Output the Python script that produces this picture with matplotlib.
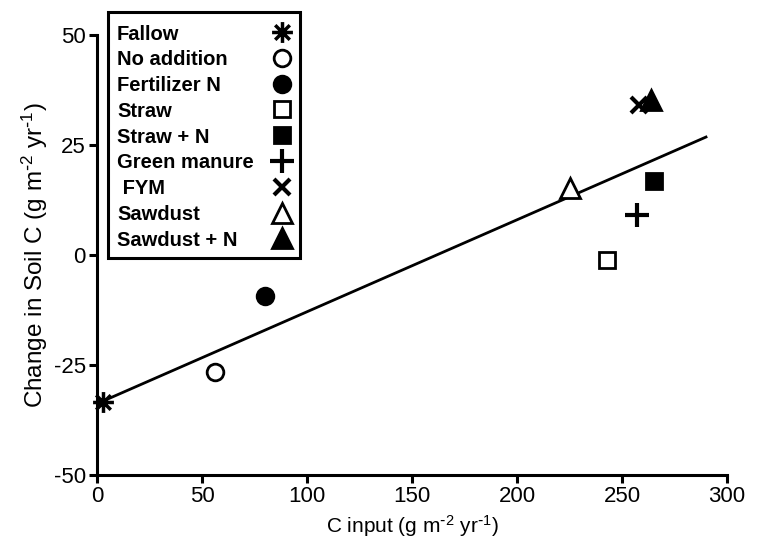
import numpy as np
import matplotlib
matplotlib.use("Agg")
import matplotlib.pyplot as plt
from matplotlib.path import Path
from matplotlib.lines import Line2D
from matplotlib.patches import Rectangle

plt.rcParams['font.family'] = ['Liberation Sans', 'DejaVu Sans']
plt.rcParams['mathtext.default'] = 'regular'
plt.rcParams['axes.unicode_minus'] = False

# treatments
labels = ["Fallow", "No addition", "Fertilizer N", "Straw", "Straw + N",
          "Green manure", " FYM", "Sawdust", "Sawdust + N"]
c_input = [3, 56, 80, 243, 265, 257, 258, 225, 264]
soil_c = [-33.5, -26.6, -9.3, -1.1, 16.8, 9.1, 34.0, 15.2, 35.2]

# regression line
fit_intercept = -33.8
fit_slope = 0.209
fit_x = [0, 290]

W, H = 761, 547

# asterisk marker for fallow (x and + together)
star = Path([(-1, 0), (1, 0), (0, -1), (0, 1), (-0.7, -0.7), (0.7, 0.7),
             (-0.7, 0.7), (0.7, -0.7)],
            [Path.MOVETO, Path.LINETO] * 4)

styles = [
    dict(marker=star, ms=15, mfc='none', mec='black', mew=2.5),
    dict(marker='o', ms=12, mfc='white', mec='black', mew=2),
    dict(marker='o', ms=12, mfc='black', mec='black', mew=2),
    dict(marker='s', ms=12, mfc='white', mec='black', mew=2),
    dict(marker='s', ms=12, mfc='black', mec='black', mew=2),
    dict(marker='+', ms=17, mec='black', mew=3),
    dict(marker='x', ms=11, mec='black', mew=3),
    dict(marker='^', ms=15, mfc='white', mec='black', mew=2),
    dict(marker='^', ms=15, mfc='black', mec='black', mew=2),
]

fig = plt.figure(figsize=(W / 100, H / 100), dpi=100)
ax = fig.add_axes([97 / W, 1 - 475 / H, 630 / W, 440 / H])

xs = np.array(fit_x)
ax.plot(xs, fit_intercept + fit_slope * xs, color='black', lw=2, zorder=2)

for lab, x, y, st in zip(labels, c_input, soil_c, styles):
    ax.plot([x], [y], linestyle='none', zorder=3, clip_on=False, **st)

ax.set_xlim(0, 300)
ax.set_ylim(-50, 50)
ax.set_xticks(np.arange(0, 301, 50))
ax.set_yticks([-50, -25, 0, 25, 50])

for s in ['top', 'right']:
    ax.spines[s].set_visible(False)
for s in ['left', 'bottom']:
    ax.spines[s].set_linewidth(2.2)
ax.tick_params(width=2.2, length=6, labelsize=16, pad=2)

ax.set_xlabel(r"C input (g m$^{\text{-}2}$ yr$^{\text{-}1}$)", fontsize=15, labelpad=4)
ax.set_ylabel(r"Change in Soil C (g m$^{\text{-}2}$ yr$^{\text{-}1}$)", fontsize=17.5,
              labelpad=3)

# legend drawn by hand: text left-aligned, symbols in a column on the right
box_l, box_t, box_r, box_b = 108, 12, 300, 258
fig.add_artist(Rectangle((box_l / W, 1 - box_b / H), (box_r - box_l) / W,
                         (box_b - box_t) / H, transform=fig.transFigure,
                         facecolor='white', edgecolor='black', lw=2.2,
                         zorder=5))
row0, step = 32, 25.8
for i, (lab, st) in enumerate(zip(labels, styles)):
    yy = 1 - (row0 + i * step) / H
    fig.text(117 / W, yy, lab, fontsize=14.5, fontweight='bold',
             ha='left', va='center_baseline', zorder=6)
    fig.add_artist(Line2D([282 / W], [yy], transform=fig.transFigure,
                          linestyle='none', zorder=6, **st))

fig.savefig("out.png", dpi=100)
